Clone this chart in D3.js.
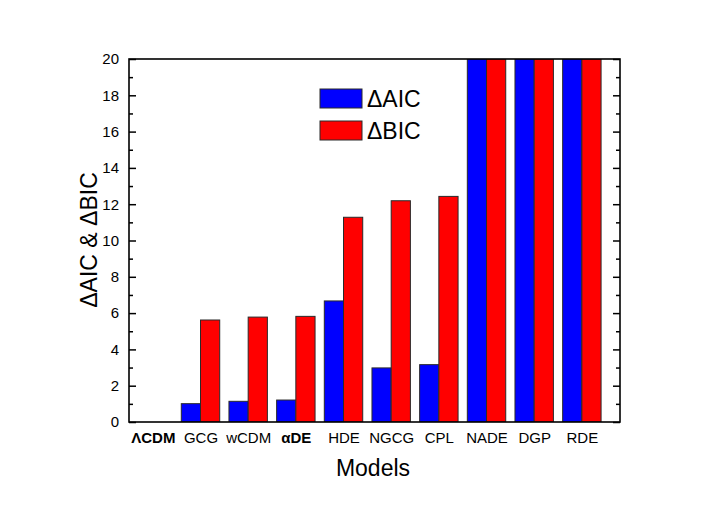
<!DOCTYPE html>
<html>
<head>
<meta charset="utf-8">
<script src="https://cdn.jsdelivr.net/npm/d3@7"></script>
<style>
  body { margin: 0; background: #fff; }
  svg text { font-family: "Liberation Sans", Arial, sans-serif; fill: #000; }
</style>
</head>
<body>
<div id="chart"></div>
<script>
// models on the x axis
const models = ["ΛCDM", "GCG", "wCDM", "αDE", "HDE", "NGCG", "CPL", "NADE", "DGP", "RDE"];
const boldModels = ["ΛCDM", "αDE"];

// values (NADE, DGP, RDE run off the top of the frame)
const dAIC = [0, 1.01, 1.14, 1.21, 6.67, 2.98, 3.16, 20, 20, 20];
const dBIC = [0, 5.62, 5.78, 5.82, 11.28, 12.19, 12.43, 20, 20, 20];

const yMajor = [0, 2, 4, 6, 8, 10, 12, 14, 16, 18, 20];
const yMinor = [1, 3, 5, 7, 9, 11, 13, 15, 17, 19];

const width = 720;
const height = 506;
const plot = { left: 129, right: 620, top: 59, bottom: 422 };

const svg = d3
    .select("#chart")
    .append("svg")
    .attr("width", width)
    .attr("height", height);

// categories sit at 1..10, the frame runs a bit past the last one
const x = d3.scaleLinear().domain([0.5, 10.8]).range([plot.left, plot.right]);
const y = d3.scaleLinear().domain([0, 20]).range([plot.bottom, plot.top]);
const barW = 0.403;

svg.append("clipPath")
    .attr("id", "clip")
    .append("rect")
    .attr("x", plot.left)
    .attr("y", plot.top)
    .attr("width", plot.right - plot.left)
    .attr("height", plot.bottom - plot.top);

const bars = svg.append("g").attr("clip-path", "url(#clip)");

const drawBars = (values, color, offset) =>
    bars.append("g")
        .selectAll("rect")
        .data(values)
        .enter()
        .append("rect")
        .attr("x", (d, i) => x(i + 1 + offset))
        .attr("width", x(barW) - x(0))
        .attr("y", (d) => y(d))
        .attr("height", (d) => y(0) - y(d))
        .attr("fill", color)
        .attr("stroke", "#2a2a2a")
        .attr("stroke-width", 1);

drawBars(dAIC, "#0000ff", -barW);
drawBars(dBIC, "#ff0000", 0);

// left axis, ticks pointing inwards
const left = svg.append("g").attr("transform", "translate(" + plot.left + ",0)");
left.call(d3.axisLeft(y).tickValues(yMajor).tickSize(-7).tickPadding(10));
left.append("g").call(d3.axisLeft(y).tickValues(yMinor).tickSize(-4).tickFormat(""));

const right = svg.append("g").attr("transform", "translate(" + plot.right + ",0)");
right.call(d3.axisRight(y).tickValues(yMajor).tickSize(-7).tickFormat(""));
right.append("g").call(d3.axisRight(y).tickValues(yMinor).tickSize(-4).tickFormat(""));

svg.selectAll(".tick text").style("font-size", "15px");

const bottom = svg.append("g").attr("transform", "translate(0," + plot.bottom + ")");
bottom.call(
    d3.axisBottom(x)
        .tickValues(d3.range(1, models.length + 1))
        .tickSize(0)
        .tickPadding(10)
        .tickFormat((d) => models[d - 1])
);
bottom.selectAll(".tick text")
    .style("font-size", "15px")
    .style("font-weight", (d) => (boldModels.includes(models[d - 1]) ? "bold" : "normal"));

svg.selectAll(".domain").remove();
svg.selectAll(".tick line").attr("stroke", "#000").attr("stroke-width", 1.5);
svg.selectAll(".tick text").attr("fill", "#000");

// frame
svg.append("rect")
    .attr("x", plot.left)
    .attr("y", plot.top)
    .attr("width", plot.right - plot.left)
    .attr("height", plot.bottom - plot.top)
    .attr("fill", "none")
    .attr("stroke", "#000")
    .attr("stroke-width", 1.6);

// axis titles
svg.append("text")
    .attr("x", 373)
    .attr("y", 476)
    .attr("text-anchor", "middle")
    .style("font-size", "23px")
    .text("Models");

svg.append("text")
    .attr("transform", "translate(97,240) rotate(-90)")
    .attr("text-anchor", "middle")
    .style("font-size", "23px")
    .text("ΔAIC & ΔBIC");

// legend
const legend = [
    { label: "ΔAIC", color: "#0000ff" },
    { label: "ΔBIC", color: "#ff0000" },
];
const lg = svg.append("g").attr("transform", "translate(320,89)");
legend.forEach((d, i) => {
    lg.append("rect")
        .attr("x", 0)
        .attr("y", i * 32)
        .attr("width", 42)
        .attr("height", 19)
        .attr("fill", d.color)
        .attr("stroke", "#2a2a2a")
        .attr("stroke-width", 1);
    lg.append("text")
        .attr("x", 47)
        .attr("y", i * 32 + 18)
        .style("font-size", "23px")
        .text(d.label);
});
</script>
</body>
</html>
